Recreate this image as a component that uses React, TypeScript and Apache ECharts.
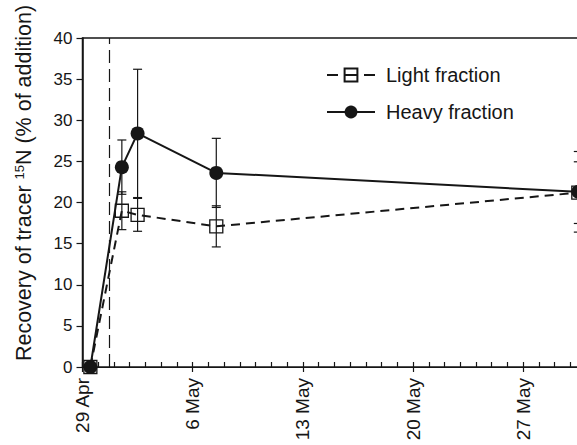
import React, { useEffect, useRef } from 'react';
import * as echarts from 'echarts';

const xTickLabels = ['29 Apr', '6 May', '13 May', '20 May', '27 May', '3 Jun'];
const yTicks = [0, 5, 10, 15, 20, 25, 30, 35, 40];
const sampleDays = [0.5, 2.5, 3.5, 8.5, 31.5];
const lightValues = [0, 19.0, 18.5, 17.1, 21.2];
const lightErrors = [0, 2.3, 2.0, 2.5, 3.75];
const heavyValues = [0, 24.3, 28.4, 23.6, 21.3];
const heavyErrors = [0, 3.3, 7.8, 4.2, 4.9];
const additionDay = [1.7];
const seriesNames = ['Light fraction', 'Heavy fraction'];

const FONT = '"Liberation Sans", Arial, Helvetica, sans-serif';
const INK = '#161616';

function errorSeries(values: number[], errors: number[]) {
  return {
    type: 'custom',
    silent: true,
    z: 2,
    clip: false,
    data: sampleDays.map((d, i) => [d, values[i], errors[i]]),
    encode: { x: 0, y: 1 },
    renderItem: (params: any, api: any) => {
      const x = api.value(0);
      const y = api.value(1);
      const e = api.value(2);
      if (!e) return null;
      const top = api.coord([x, y + e]);
      const bot = api.coord([x, y - e]);
      const hw = 4.5;
      const st = { stroke: INK, lineWidth: 1.2 };
      return {
        type: 'group',
        children: [
          { type: 'line', shape: { x1: top[0], y1: top[1], x2: bot[0], y2: bot[1] }, style: st },
          { type: 'line', shape: { x1: top[0] - hw, y1: top[1], x2: top[0] + hw, y2: top[1] }, style: st },
          { type: 'line', shape: { x1: bot[0] - hw, y1: bot[1], x2: bot[0] + hw, y2: bot[1] }, style: st },
        ],
      };
    },
  };
}

export default function App() {
  const ref = useRef<HTMLDivElement>(null);
  useEffect(() => {
    if (!ref.current) return;
    const chart = echarts.init(ref.current, null, { renderer: 'svg' });
    const dayPx = 15.74;
    chart.setOption({
      animation: false,
      backgroundColor: '#ffffff',
      grid: {
        left: 82.5,
        top: 38,
        width: 35 * dayPx,
        height: 329,
        show: true,
        borderColor: INK,
        borderWidth: 1.5,
      },
      legend: {
        orient: 'vertical',
        left: 321,
        top: 60,
        itemWidth: 48,
        itemHeight: 16,
        itemGap: 17,
        textStyle: { fontSize: 20, color: INK, fontFamily: FONT, padding: [0, 0, 0, 6] },
        data: [
          { name: seriesNames[0], lineStyle: { type: [11, 7, 12, 7, 11, 60] } },
          { name: seriesNames[1] },
        ],
      },
      xAxis: [
        {
          type: 'value',
          min: 0,
          max: 35,
          interval: 7,
          position: 'bottom',
          axisLine: { show: true, lineStyle: { color: INK, width: 1.2 } },
          axisTick: { show: true, inside: true, length: 5, lineStyle: { color: INK, width: 1.2 } },
          minorTick: { show: true, splitNumber: 7, length: 5, lineStyle: { color: INK, width: 1.2 } },
          axisLabel: {
            rotate: 90,
            fontSize: 19,
            margin: 11,
            color: INK,
            fontFamily: FONT,
            showMaxLabel: false,
            formatter: (v: number) => xTickLabels[Math.round(v / 7)] ?? '',
          },
          splitLine: { show: false },
          minorSplitLine: { show: false },
        },
        {
          type: 'value',
          min: 0,
          max: 35,
          interval: 7,
          position: 'bottom',
          axisLine: { show: false },
          axisTick: { show: true, inside: false, length: 5, lineStyle: { color: INK, width: 1.2 } },
          axisLabel: { show: false },
          splitLine: { show: false },
        },
      ],
      yAxis: {
        type: 'value',
        min: yTicks[0],
        max: yTicks[yTicks.length - 1],
        interval: 5,
        axisLine: { show: true, lineStyle: { color: INK, width: 1.5 } },
        axisTick: { show: true, length: 6, lineStyle: { color: INK, width: 1.2 } },
        axisLabel: { fontSize: 17, margin: 10, color: INK, fontFamily: FONT },
        splitLine: { show: false },
      },
      graphic: [
        {
          type: 'text',
          x: 24,
          y: 183,
          rotation: Math.PI / 2,
          style: {
            text: '{a|Recovery of tracer }{s|15}{a|N (% of addition)}',
            align: 'center',
            verticalAlign: 'middle',
            fill: INK,
            rich: {
              a: { fontSize: 21.5, fontFamily: FONT, fill: INK },
              s: { fontSize: 13, fontFamily: FONT, fill: INK, verticalAlign: 'top' },
            },
          },
        },
      ],
      series: [
        errorSeries(lightValues, lightErrors),
        errorSeries(heavyValues, heavyErrors),
        {
          type: 'line',
          name: seriesNames[0],
          data: sampleDays.map((d, i) => [d, lightValues[i]]),
          symbol: 'rect',
          symbolSize: 13,
          z: 3,
          clip: false,
          lineStyle: { color: INK, width: 2, type: [9, 6] },
          itemStyle: { color: 'rgba(255,255,255,0)', borderColor: INK, borderWidth: 1.3 },
          markLine: {
            silent: true,
            symbol: ['none', 'none'],
            label: { show: false },
            lineStyle: { color: INK, width: 1.2, type: [13, 6] },
            data: [{ xAxis: additionDay[0] }],
          },
        },
        {
          type: 'line',
          name: seriesNames[1],
          data: sampleDays.map((d, i) => [d, heavyValues[i]]),
          symbol: 'circle',
          symbolSize: 14,
          z: 4,
          clip: false,
          lineStyle: { color: INK, width: 2, type: 'solid' },
          itemStyle: { color: INK },
        },
      ],
    });
    return () => chart.dispose();
  }, []);
  return (
    <div style={{ position: 'absolute', left: 0, top: 0, width: 577, height: 445, overflow: 'hidden', background: '#fff' }}>
      <div ref={ref} style={{ width: 650, height: 445 }} />
    </div>
  );
}
